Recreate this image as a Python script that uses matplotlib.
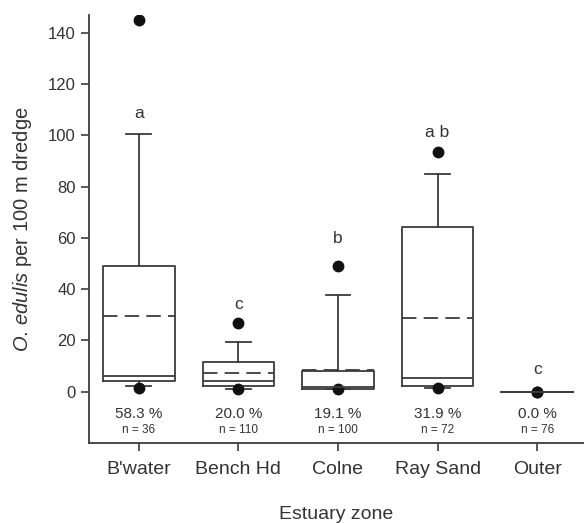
import matplotlib
matplotlib.use("Agg")
import matplotlib.pyplot as plt

plt.rcParams['font.family'] = ['Liberation Sans', 'DejaVu Sans']
plt.rcParams['mathtext.fontset'] = 'custom'
plt.rcParams['mathtext.it'] = 'Liberation Sans:italic'
plt.rcParams['mathtext.rm'] = 'Liberation Sans'

zones = ["B'water", "Bench Hd", "Colne", "Ray Sand", "Outer"]
q1 = [4.0, 2.3, 1.2, 2.1, 0.0]
median = [6.2, 4.0, 1.9, 5.3, 0.0]
q3 = [49.1, 11.6, 7.9, 64.1, 0.0]
mean = [29.6, 7.5, 8.4, 28.7, 0.0]
whisker_low = [2.1, 1.2, 1.2, 1.3, 0.0]
whisker_high = [100.6, 19.6, 37.9, 84.9, 0.0]
outlier_low = [1.3, 0.9, 1.2, 1.3, 0.0]
outlier_high = [145.0, 26.8, 49.2, 93.4, 0.0]
letters = ["a", "c", "b", "a b", "c"]
letter_y = [108.7, 34.0, 59.6, 101.0, 8.8]
percent = ["58.3 %", "20.0 %", "19.1 %", "31.9 %", "0.0 %"]
n_obs = [36, 110, 100, 72, 76]

LC = '#3c3c3c'
TC = '#333333'

fig = plt.figure(figsize=(5.84, 5.23), dpi=100)
ax = fig.add_axes([89/584, 80/523, (584-89)/584, (443-15)/523])

stats = []
for i in range(len(zones)):
    stats.append(dict(q1=q1[i], med=median[i], q3=q3[i], mean=mean[i],
                      whislo=whisker_low[i], whishi=whisker_high[i],
                      fliers=[outlier_low[i], outlier_high[i]], label=zones[i]))

pos = list(range(1, len(zones) + 1))
lw = 1.3
ax.bxp(stats, positions=pos, widths=0.72, capwidths=0.25,
       showmeans=True, meanline=True, showfliers=True,
       boxprops=dict(color=LC, linewidth=lw),
       medianprops=dict(color=LC, linewidth=lw),
       whiskerprops=dict(color=LC, linewidth=lw),
       capprops=dict(color=LC, linewidth=lw),
       meanprops=dict(color=LC, linewidth=lw, linestyle=(0, (8, 4))),
       flierprops=dict(marker='o', markerfacecolor='#111111',
                       markeredgecolor='#111111', markersize=7.5, linestyle='none'),
       zorder=2)

for i, p in enumerate(pos):
    ax.text(p, letter_y[i], letters[i], ha='center', va='center',
            fontsize=12.5, color=TC)
    ax.text(p, -8.6, percent[i], ha='center', va='center', fontsize=11, color=TC)
    ax.text(p, -14.8, f"n = {n_obs[i]}", ha='center', va='center', fontsize=8.5, color=TC)

ax.set_xlim(0.5, 5.47)
ax.set_ylim(-20, 147)
ax.set_yticks([0, 20, 40, 60, 80, 100, 120, 140])
ax.set_xticks(pos)
ax.set_xticklabels(zones, fontsize=14, color=TC)
ax.tick_params(axis='y', labelsize=12, labelcolor=TC, color=LC, width=1.2, length=6, direction='out')
ax.tick_params(axis='x', color=LC, width=1.2, length=6, direction='out', pad=7)

for s in ['top', 'right']:
    ax.spines[s].set_visible(False)
for s in ['left', 'bottom']:
    ax.spines[s].set_color(LC)
    ax.spines[s].set_linewidth(1.3)

ax.set_xlabel('Estuary zone', fontsize=14, color=TC, labelpad=20)
ax.set_ylabel(r'$\mathit{O.\,edulis}$ per 100 m dredge', fontsize=14.5, color=TC, labelpad=10)

fig.savefig('out.png', dpi=100)
